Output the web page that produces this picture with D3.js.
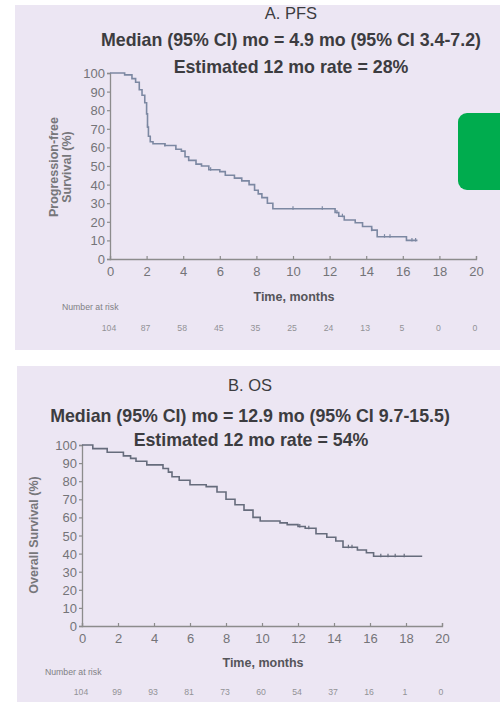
<!DOCTYPE html>
<html>
<head>
<meta charset="utf-8">
<script src="https://cdn.jsdelivr.net/npm/d3@7"></script>
<style>
  body { margin: 0; background: #ffffff; }
  svg { display: block; font-family: "Liberation Sans", Arial, sans-serif; }
</style>
</head>
<body>
<script>
// tick values shared by both panels
var xTicks = [0, 2, 4, 6, 8, 10, 12, 14, 16, 18, 20];
var yTicks = [0, 10, 20, 30, 40, 50, 60, 70, 80, 90, 100];

// PFS curve (month, % progression-free)
var pfsTime = [0, 0.8, 1.2, 1.4, 1.6, 1.75, 1.9, 2.0, 2.05, 2.1, 2.2, 2.35, 3.0, 3.6, 3.9, 4.1, 4.3, 4.7, 5.0, 5.4, 6.0, 6.3, 6.8, 7.2, 7.6, 7.9, 8.1, 8.3, 8.6, 8.9, 12.3, 12.5, 12.8, 13.4, 13.8, 14.3, 14.6, 16.2, 16.8];
var pfsSurv = [100, 99, 97, 95, 91, 88, 84, 78, 71, 66, 63, 62, 61, 59, 58, 55, 53, 51, 50, 48, 47, 45, 43.5, 42, 40, 37, 35, 33, 30, 27, 25, 23, 21, 19.5, 17.5, 15.5, 12, 10, 10];
var pfsCensor = [2.05, 3.0, 5.5, 10.0, 11.6, 12.4, 12.7, 14.3, 15.0, 15.3, 16.5, 16.7];
var pfsRisk = [104, 87, 58, 45, 35, 25, 24, 13, 5, 0, 0];

// OS curve (month, % alive)
var osTime = [0, 0.6, 1.4, 2.3, 2.7, 3.0, 3.6, 4.5, 4.8, 5.0, 5.4, 6.0, 6.9, 7.5, 8.0, 8.5, 9.0, 9.5, 9.9, 11.0, 11.4, 12.0, 12.4, 13.0, 13.6, 14.1, 14.5, 15.3, 15.8, 16.2, 18.9];
var osSurv = [100, 98, 96, 94, 92.6, 91, 89, 87, 85, 82.5, 80.5, 78, 77, 74, 70, 67, 64, 60, 58, 57, 56, 55, 54, 51, 49, 47, 43.5, 42, 40.5, 38.5, 38.5];
var osCensor = [12.1, 12.6, 14.8, 15.0, 16.6, 17.0, 17.4, 17.9];
var osRisk = [104, 99, 93, 81, 73, 60, 54, 37, 16, 1, 0];

var totalWidth = 500, totalHeight = 713;
var axisColour = "#8c8c8c";
var textColour = "#3c3c40";

var svg = d3.select("body").append("svg")
  .attr("width", totalWidth)
  .attr("height", totalHeight);

// pannelli lavanda
svg.append("rect").attr("x", 15).attr("y", 5).attr("width", 485).attr("height", 345).attr("fill", "#ece6f3");
svg.append("rect").attr("x", 17).attr("y", 366).attr("width", 483).attr("height", 336).attr("fill", "#ece6f3");

// green tab on the right of panel A
svg.append("rect").attr("x", 458).attr("y", 113).attr("width", 60).attr("height", 77)
  .attr("rx", 9).attr("fill", "#00ac4e");

function surv(times, values, t) {
  var i = d3.bisectRight(times, t) - 1;
  return values[Math.max(0, i)];
}

function drawPanel(p) {
  var x = d3.scaleLinear().domain([0, 20]).range([p.left, p.right]);
  var y = d3.scaleLinear().domain([0, 100]).range([p.bottom, p.top]);
  var g = svg.append("g");

  // titles
  g.append("text").attr("x", p.cx).attr("y", p.titleY[0])
    .attr("text-anchor", "middle").attr("font-size", 16.5).attr("fill", textColour)
    .text(p.title);
  g.append("text").attr("x", p.cx).attr("y", p.titleY[1])
    .attr("text-anchor", "middle").attr("font-size", 17.8).attr("font-weight", "bold").attr("fill", textColour)
    .text(p.median);
  g.append("text").attr("x", p.cx2).attr("y", p.titleY[2])
    .attr("text-anchor", "middle").attr("font-size", 17.8).attr("font-weight", "bold").attr("fill", textColour)
    .text(p.rate);

  // asse y
  var yAxis = d3.axisLeft(y).tickValues(yTicks).tickSize(3).tickPadding(2);
  var ya = g.append("g").attr("transform", "translate(" + p.left + ",0)").call(yAxis);
  // asse x
  var xAxis = d3.axisBottom(x).tickValues(xTicks).tickSize(-3).tickPadding(8);
  var xa = g.append("g").attr("transform", "translate(0," + p.bottom + ")").call(xAxis);

  [ya, xa].forEach(function(a) {
    a.select(".domain").attr("stroke", axisColour).attr("stroke-width", 1.3);
    a.selectAll(".tick line").attr("stroke", axisColour).attr("stroke-width", 1.2);
    a.selectAll(".tick text").attr("fill", "#747478").attr("font-size", 13)
      .style("font-family", "'Liberation Sans', Arial, sans-serif");
  });
  ya.selectAll(".tick text").attr("dy", "0.35em");

  // etichetta asse y
  var yl = g.append("text").attr("transform", "translate(" + p.ylabelX + "," + p.ylabelY + ") rotate(-90)")
    .attr("text-anchor", "middle").attr("font-size", 12.5).attr("font-weight", "bold").attr("fill", "#77777b");
  p.ylabel.forEach(function(line, i) {
    yl.append("tspan").attr("x", 0).attr("dy", i == 0 ? 0 : 13).text(line);
  });

  // etichetta asse x
  g.append("text").attr("x", p.xlabelX).attr("y", p.xlabelY)
    .attr("text-anchor", "middle").attr("font-size", 12.5).attr("font-weight", "bold").attr("fill", "#55555a")
    .text("Time, months");

  // number at risk
  g.append("text").attr("x", p.riskLabelX).attr("y", p.riskLabelY)
    .attr("font-size", 8.7).attr("fill", "#808084").text("Number at risk");
  g.selectAll(".risk").data(p.risk).enter().append("text")
    .attr("x", function(d, i) { return x(xTicks[i]) - 1; })
    .attr("y", p.riskY)
    .attr("text-anchor", "middle").attr("font-size", 8.7).attr("fill", "#929296")
    .text(function(d) { return d; });

  // curva di Kaplan-Meier
  var pts = p.time.map(function(t, i) { return [t, p.surv[i]]; });
  var line = d3.line().x(function(d) { return x(d[0]); }).y(function(d) { return y(d[1]); })
    .curve(d3.curveStepAfter);
  g.append("path").datum(pts).attr("d", line)
    .attr("fill", "none").attr("stroke", p.colour).attr("stroke-width", 1.6);

  // censure
  g.selectAll(".cens").data(p.censor).enter().append("line")
    .attr("x1", function(d) { return x(d); }).attr("x2", function(d) { return x(d); })
    .attr("y1", function(d) { return y(surv(p.time, p.surv, d)) - 2.5; })
    .attr("y2", function(d) { return y(surv(p.time, p.surv, d)) + 1; })
    .attr("stroke", p.colour).attr("stroke-width", 1.2);
}

drawPanel({
  left: 110, right: 476, top: 73, bottom: 259,
  cx: 291, cx2: 291, titleY: [19, 46, 73],
  title: "A. PFS",
  median: "Median (95% CI) mo = 4.9 mo (95% CI 3.4-7.2)",
  rate: "Estimated 12 mo rate = 28%",
  ylabel: ["Progression-free", "Survival (%)"], ylabelX: 58, ylabelY: 167,
  xlabelX: 294, xlabelY: 301,
  riskLabelX: 62, riskLabelY: 310, riskY: 331, risk: pfsRisk,
  time: pfsTime, surv: pfsSurv, censor: pfsCensor, colour: "#7c88a2"
});

drawPanel({
  left: 82, right: 442, top: 445, bottom: 626,
  cx: 250, cx2: 251, titleY: [391, 422, 446],
  title: "B. OS",
  median: "Median (95% CI) mo = 12.9 mo (95% CI 9.7-15.5)",
  rate: "Estimated 12 mo rate = 54%",
  ylabel: ["Overall Survival (%)"], ylabelX: 38, ylabelY: 535,
  xlabelX: 263, xlabelY: 667,
  riskLabelX: 45, riskLabelY: 675, riskY: 695, risk: osRisk,
  time: osTime, surv: osSurv, censor: osCensor, colour: "#666c7c"
});
</script>
</body>
</html>
